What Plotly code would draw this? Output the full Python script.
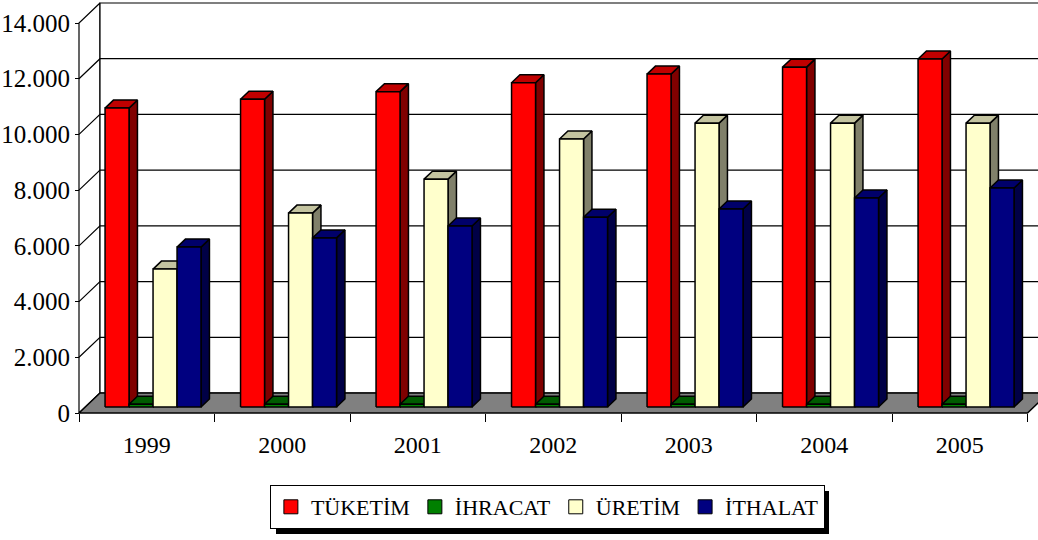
import plotly.graph_objects as go

# ---------------- data ----------------
years = ["1999", "2000", "2001", "2002", "2003", "2004", "2005"]
tuketim = [10730, 11050, 11320, 11640, 11950, 12200, 12490]
ihracat = [100, 100, 100, 100, 100, 100, 100]
uretim = [4950, 6960, 8180, 9620, 10190, 10190, 10190]
ithalat = [5740, 6070, 6500, 6810, 7110, 7500, 7860]
series_names = ["TÜKETİM", "İHRACAT", "ÜRETİM", "İTHALAT"]
y_ticks = [0, 2000, 4000, 6000, 8000, 10000, 12000, 14000]
y_tick_text = ["0", "2.000", "4.000", "6.000", "8.000", "10.000", "12.000", "14.000"]

series_values = [tuketim, ihracat, uretim, ithalat]
front_cols = ["#FF0000", "#008000", "#FFFFCC", "#000080"]
top_cols = ["#C00000", "#005A00", "#C4C4A0", "#00006A"]
side_cols = ["#800000", "#003800", "#80806A", "#000046"]

FONT = "Times New Roman, Liberation Serif, Tinos, DejaVu Serif, serif"

# ---------------- geometry (axis units) ----------------
PX_X = 135.5                     # px per category
PX_Y = 390.0 / 14000.0           # px per value unit
DX = 21.0 / PX_X                 # wall depth in x units
DY = 20.0 / PX_Y                 # wall depth in y units
F0, BD = 0.3, 0.4                # bar front depth fraction, bar depth fraction
W = 24.0 / PX_X                  # bar width
n = len(years)
ymax_tick = y_ticks[-1]

fig = go.Figure()

def poly(xs, ys, fill, lw=1.5, lc="black"):
    fig.add_trace(go.Scatter(x=xs + [xs[0]], y=ys + [ys[0]], mode="lines",
                             fill="toself", fillcolor=fill,
                             line=dict(color=lc, width=lw),
                             hoverinfo="skip", showlegend=False))

# left wall and back wall
poly([0, 0, DX, DX], [0, ymax_tick, ymax_tick + DY, DY], "white", 1.2)
poly([DX, n + DX, n + DX, DX], [DY, DY, ymax_tick + DY, ymax_tick + DY], "white", 1.2)
# gridlines on back wall and left wall
gx, gy = [], []
for v in y_ticks[1:-1]:
    gx += [0, DX, n + DX, None]
    gy += [v, v + DY, v + DY, None]
fig.add_trace(go.Scatter(x=gx, y=gy, mode="lines", line=dict(color="black", width=1.2),
                         hoverinfo="skip", showlegend=False))
# floor
poly([0, n, n + DX, DX], [0, 0, DY, DY], "#808080", 1.5)

# bars
bx0 = F0 * DX
by0 = F0 * DY
bdx = BD * DX
bdy = BD * DY
for s, vals in enumerate(series_values):
    for c, v in enumerate(vals):
        xl = c + 0.5 + (s - 2) * W + bx0
        xr = xl + W
        b = by0
        t = by0 + v
        poly([xr, xr + bdx, xr + bdx, xr], [b, b + bdy, t + bdy, t], side_cols[s])
        poly([xl, xl + bdx, xr + bdx, xr], [t, t + bdy, t + bdy, t], top_cols[s])
        poly([xl, xr, xr, xl], [b, b, t, t], front_cols[s])

# legend entries
for s, name in enumerate(series_names):
    fig.add_trace(go.Scatter(x=[None], y=[None], mode="markers", name=name,
                             marker=dict(symbol="square", size=14, color=front_cols[s],
                                         line=dict(color="black", width=1))))

ML, MT = 76, 0
PW, PH = 1038 - ML, 417
xmin = -3.0 / PX_X
xmax = xmin + PW / PX_X
ymin = -4.0 / PX_Y
ymax = ymin + PH / PX_Y

def px_x(p):
    return (p - ML) / PW

def px_y(p):
    return (PH + MT - p) / PH

# legend drop shadow
fig.add_shape(type="rect", xref="paper", yref="paper",
              x0=px_x(276), x1=px_x(829), y0=px_y(534), y1=px_y(491),
              fillcolor="black", line=dict(width=0), layer="above")

fig.update_layout(
    width=1038, height=540,
    margin=dict(l=ML, r=0, t=MT, b=540 - PH - MT),
    paper_bgcolor="white", plot_bgcolor="white",
    font=dict(family=FONT, color="black"),
    showlegend=True,
    legend=dict(orientation="h", x=0.49, xanchor="center", y=px_y(485), yanchor="top",
                bordercolor="black", borderwidth=1, bgcolor="white",
                font=dict(size=22, family=FONT),
                itemwidth=30, tracegroupgap=0),
    xaxis=dict(range=[xmin, xmax], showgrid=False, zeroline=False, showline=False,
               tickvals=[c + 0.5 for c in range(n)], ticktext=years, ticks="",
               tickfont=dict(size=24, family=FONT), anchor="free", position=4.0 / PH,
               ticklabelstandoff=15,
               minor=dict(tickvals=list(range(n + 1)), ticks="outside", ticklen=8,
                          tickcolor="black", tickwidth=1.2)),
    yaxis=dict(range=[ymin, ymax], showgrid=False, zeroline=False, showline=False,
               tickvals=y_ticks, ticktext=y_tick_text, ticks="outside", ticklen=4,
               tickcolor="black", tickwidth=1.2, tickfont=dict(size=25, family=FONT),
               anchor="free", position=3.0 / PW),
)

fig.write_html("out.html", config={"displayModeBar": False},
               post_script="document.body.style.margin='0';document.body.style.overflow='hidden';")
